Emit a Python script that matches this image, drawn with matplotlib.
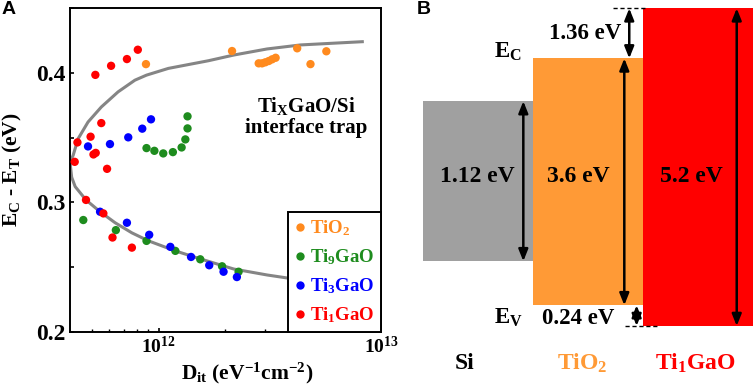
import matplotlib
matplotlib.use("Agg")
import matplotlib.pyplot as plt
from matplotlib.lines import Line2D
import numpy as np

plt.rcParams['font.family'] = ['Liberation Serif', 'DejaVu Serif']
plt.rcParams['font.weight'] = 'bold'
plt.rcParams['mathtext.fontset'] = 'custom'
plt.rcParams['mathtext.rm'] = 'Liberation Serif:bold'
plt.rcParams['mathtext.it'] = 'Liberation Serif:bold'
plt.rcParams['mathtext.bf'] = 'Liberation Serif:bold'
plt.rcParams['mathtext.default'] = 'rm'

# ---------------- Panel A data ----------------
tio2_dit = [8.78e11, 2.14e12, 2.82e12, 2.92e12, 3.02e12, 3.13e12, 3.24e12, 3.36e12, 4.20e12, 4.82e12, 5.68e12]
tio2_e = [0.4067, 0.4168, 0.4073, 0.4073, 0.4081, 0.4091, 0.4104, 0.4116, 0.4189, 0.4067, 0.4166]

ti9_dit = [8.83e11, 9.58e11, 1.05e12, 1.16e12, 1.27e12, 1.32e12, 1.35e12, 1.35e12,
           4.59e11, 6.43e11, 8.83e11, 1.19e12, 1.54e12, 1.93e12, 2.29e12]
ti9_e = [0.3419, 0.3398, 0.3378, 0.3388, 0.3424, 0.3486, 0.3571, 0.3664,
         0.2864, 0.2786, 0.2703, 0.2626, 0.2561, 0.2507, 0.2465]

ti3_dit = [4.82e11, 6.05e11, 7.31e11, 8.45e11, 9.25e11,
           5.46e11, 7.21e11, 9.08e11, 1.13e12, 1.40e12, 1.69e12, 1.96e12, 2.25e12]
ti3_e = [0.3432, 0.3450, 0.3502, 0.3569, 0.3641,
         0.2928, 0.2843, 0.2750, 0.2657, 0.2579, 0.2515, 0.2465, 0.2424]

ti1_dit = [5.20e11, 6.12e11, 7.21e11, 8.07e11, 5.53e11, 4.95e11, 4.32e11, 5.10e11, 5.22e11,
           4.20e11, 5.87e11, 4.72e11, 5.65e11, 6.21e11, 7.59e11]
ti1_e = [0.3984, 0.4054, 0.4106, 0.4178, 0.3612, 0.3507, 0.3463, 0.3370, 0.3382,
         0.3313, 0.3259, 0.3019, 0.2915, 0.2729, 0.2651]

curve_dit = [8.24e12, 4.345e12, 3.076e12, 2.178e12, 1.675e12, 1.107e12, 8.83e11, 7.83e11, 6.58e11,
             5.53e11, 4.82e11, 4.35e11, 4.13e11, 4.03e11, 4.02e11, 4.07e11, 4.22e11, 4.72e11,
             5.46e11, 6.38e11, 7.59e11, 9.02e11, 1.189e12, 1.542e12, 2.178e12, 3.076e12, 3.99e12, 4.6e12]
curve_e = [0.4240, 0.4215, 0.4184, 0.4137, 0.4093, 0.4034, 0.3982, 0.3943, 0.3853,
           0.3736, 0.3620, 0.3491, 0.3362, 0.3323, 0.3277, 0.3194, 0.3122, 0.3019,
           0.2928, 0.2843, 0.2765, 0.2703, 0.2626, 0.2564, 0.2486, 0.2440, 0.2411, 0.2400]

series_labels = ['TiO$_2$', 'Ti$_9$GaO', 'Ti$_3$GaO', 'Ti$_1$GaO']
series_colors = ['#FF8A1E', '#1E8C1E', '#0000FF', '#FF0000']

y_ticks = [0.2, 0.3, 0.4]
y_minor = [0.25, 0.35, 0.45]
x_ticks = [1e12, 1e13]
x_ticklabels = ['10$^{12}$', '10$^{13}$']

# ---------------- Panel B data ----------------
materials = ['Si', 'TiO$_2$', 'Ti$_1$GaO']
band_bottom = [1.06, 0.34, 0.0]
band_top = [3.68, 4.38, 5.2]
band_colors = ['#A0A0A0', '#FF9A36', '#FF0000']
gap_labels = ['1.12 eV', '3.6 eV', '5.2 eV']
material_colors = ['black', '#FF9A36', '#FF0000']
cb_offset_label = '1.36 eV'
vb_offset_label = '0.24 eV'

W, H = 754, 391
fig = plt.figure(figsize=(W / 100, H / 100), dpi=100)

# ---------------- Panel A ----------------
ax = fig.add_axes([70 / W, 1 - 332 / H, 311 / W, 324 / H])
ax.plot(curve_dit, curve_e, color='#858585', lw=2.2, zorder=2, solid_joinstyle='round')
series = [(tio2_dit, tio2_e), (ti9_dit, ti9_e), (ti3_dit, ti3_e), (ti1_dit, ti1_e)]
for (xs, ys), c in zip(series, series_colors):
    ax.scatter(xs, ys, s=36, color=c, edgecolors='none', zorder=3)

ax.set_xscale('log')
ax.set_xlim(4e11, 1e13)
ax.set_ylim(0.2, 0.45)
ax.set_xticks(x_ticks)
ax.set_xticklabels(x_ticklabels, fontsize=14)
ax.set_xticks([a * b for b in (1e11, 1e12) for a in range(2, 10) if 4e11 < a * b < 1e13], minor=True)
ax.xaxis.set_minor_formatter(matplotlib.ticker.NullFormatter())
ax.set_yticks(y_ticks)
ax.set_yticklabels(['%.1f' % v for v in y_ticks], fontsize=17)
ax.set_yticks(y_minor, minor=True)
ax.tick_params(axis='both', which='both', direction='in', top=False, right=False)
ax.tick_params(axis='y', which='both', length=3, width=1.2, pad=3)
ax.tick_params(axis='x', which='major', length=3, width=1.2, pad=3)
ax.tick_params(axis='x', which='minor', length=2, width=1)
for s in ax.spines.values():
    s.set_linewidth(1.4)

ax.set_ylabel('E$_\\mathrm{C}$ - E$_\\mathrm{T}$ (eV)', fontsize=15.5, fontweight='bold')
ax.yaxis.set_label_coords(-0.148, 0.5)
ax.set_xlabel('D$_{it}$ (eV$^{-1}$cm$^{-2}$)', fontsize=15.5, fontweight='bold')
ax.xaxis.set_label_coords(0.57, -0.09)

ax.text(0.76, 0.665, 'Ti$_\\mathrm{X}$GaO/Si\ninterface trap', transform=ax.transAxes,
        ha='center', va='center', fontsize=15, fontweight='bold', linespacing=1.05)

handles = [Line2D([], [], ls='none', marker='o', markersize=6, markerfacecolor=c,
                  markeredgecolor='none') for c in series_colors]
leg = ax.legend(handles, series_labels, loc='lower right', borderaxespad=0, fancybox=False,
                edgecolor='black', framealpha=1, fontsize=13.5, handlelength=0.5,
                handletextpad=0.3, labelspacing=0.5, borderpad=0.35)
leg.get_frame().set_linewidth(1.4)
for t, c in zip(leg.get_texts(), series_colors):
    t.set_color(c)

fig.text(9 / W, 1 - 10 / H, 'A', fontsize=14, fontweight='bold', family='Liberation Sans',
         ha='center', va='center')

# ---------------- Panel B ----------------
axb = fig.add_axes([400 / W, 0, 354 / W, 1])
axb.set_xlim(-0.706, 2.512)
axb.set_ylim(-1.064, 5.336)
axb.axis('off')
xpos = np.arange(len(materials))
heights = [t - b for t, b in zip(band_top, band_bottom)]
axb.bar(xpos, heights, bottom=band_bottom, width=1.0, color=band_colors, edgecolor='none', zorder=1)

astyle = dict(arrowstyle='<|-|>,head_length=0.5,head_width=0.2', color='black', lw=1.8,
              mutation_scale=14, shrinkA=0, shrinkB=0)
arrow_x = [0.415, 1.333, 2.355]
for xa, b, t in zip(arrow_x, band_bottom, band_top):
    axb.annotate('', xy=(xa, t), xytext=(xa, b), arrowprops=astyle, zorder=3)
# band offsets
axb.annotate('', xy=(1.378, band_top[2]), xytext=(1.378, band_top[1]), arrowprops=astyle, zorder=3)
axb.annotate('', xy=(1.445, band_bottom[2]), xytext=(1.445, band_bottom[1]), arrowprops=astyle, zorder=3)
axb.plot([1.23, 1.54], [band_top[2], band_top[2]], color='black', lw=1, ls=(0, (3, 2)), zorder=3)
axb.plot([1.34, 1.64], [band_bottom[2], band_bottom[2]], color='black', lw=1, ls=(0, (3, 2)), zorder=3)

gap_x = [0.0, 0.912, 1.945]
for gx, lab in zip(gap_x, gap_labels):
    axb.text(gx, 2.44, lab, ha='center', va='center', fontsize=17, fontweight='bold', zorder=4)
axb.text(0.975, 4.79, cb_offset_label, ha='center', va='center', fontsize=16.5, fontweight='bold')
axb.text(0.912, 0.13, vb_offset_label, ha='center', va='center', fontsize=16.5, fontweight='bold')
axb.text(0.276, 4.49, 'E$_\\mathrm{C}$', ha='center', va='center', fontsize=16.5, fontweight='bold')
axb.text(0.276, 0.13, 'E$_\\mathrm{V}$', ha='center', va='center', fontsize=16.5, fontweight='bold')
lab_x = [-0.115, 0.955, 1.975]
for lx, m, c in zip(lab_x, materials, material_colors):
    axb.text(lx, -0.606, m, ha='center', va='center', fontsize=17, fontweight='bold', color=c)

fig.text(424 / W, 1 - 10 / H, 'B', fontsize=14, fontweight='bold', family='Liberation Sans',
         ha='center', va='center')

fig.savefig('out.png', dpi=100)
